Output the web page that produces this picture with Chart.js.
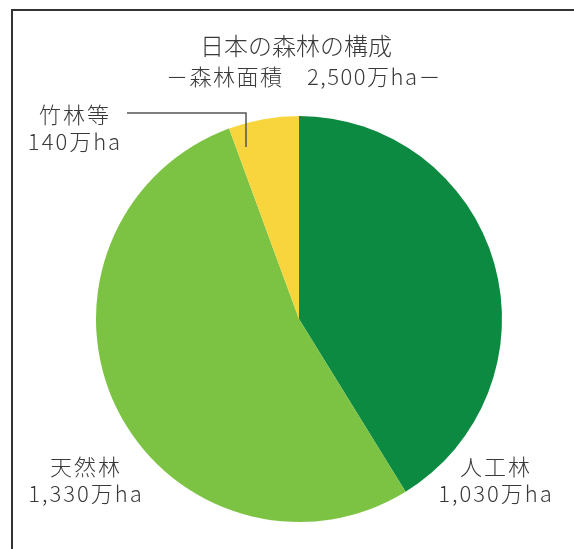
<!DOCTYPE html>
<html>
<head>
    <meta charset="utf-8">
    <title>日本の森林の構成</title>
    <script src="https://cdn.jsdelivr.net/npm/chart.js"></script>
    <style>
        html, body { margin: 0; padding: 0; background: #fff; }
        #wrap { position: relative; width: 574px; height: 549px; }
    </style>
</head>
<body>
    <div id="wrap">
        <canvas id="forestChart" width="574" height="549"></canvas>
    </div>

    <script>
        // forest area in 万ha
        const categories = ['人工林', '天然林', '竹林等'];
        const areas = [1030, 1330, 140];
        const sliceColors = ['#0c8a41', '#7cc243', '#f8d53c'];

        const total = areas.reduce((a, b) => a + b, 0);
        const fmt = v => v.toLocaleString('en-US') + '万ha';

        const FONT = '"Noto Sans CJK JP", "Noto Sans", sans-serif';
        const INK = '#3a3a3a';

        // where each category's two-line label sits
        const labelSpots = {
            '人工林': { x: 496, y: 467 },
            '天然林': { x: 86, y: 467 },
            '竹林等': { x: 75, y: 115 }
        };

        const decorations = {
            id: 'decorations',
            afterDraw(chart) {
                const ctx = chart.ctx;
                ctx.save();

                // scanned frame: top and left rules only
                ctx.strokeStyle = '#333';
                ctx.lineWidth = 2;
                ctx.beginPath();
                ctx.moveTo(12, 549);
                ctx.lineTo(12, 10);
                ctx.lineTo(574, 10);
                ctx.stroke();

                ctx.fillStyle = INK;
                ctx.textAlign = 'center';
                ctx.textBaseline = 'middle';

                ctx.font = '300 24px ' + FONT;
                ctx.letterSpacing = '0px';
                ctx.fillText('日本の森林の構成', 296, 46);
                ctx.font = '300 22px ' + FONT;
                ctx.letterSpacing = '1.5px';
                ctx.fillText('－森林面積　' + fmt(total) + '－', 304, 77);

                ctx.font = '300 22px ' + FONT;
                ctx.letterSpacing = '2px';
                categories.forEach((name, i) => {
                    const p = labelSpots[name];
                    ctx.fillText(name, p.x, p.y);
                    ctx.fillText(fmt(areas[i]), p.x, p.y + 27);
                });
                ctx.letterSpacing = '0px';

                // leader from 竹林等 into its slice
                ctx.strokeStyle = '#555';
                ctx.lineWidth = 1.5;
                ctx.beginPath();
                ctx.moveTo(127, 113);
                ctx.lineTo(246, 113);
                ctx.lineTo(246, 147);
                ctx.stroke();

                ctx.restore();
            }
        };

        new Chart(document.getElementById('forestChart'), {
            type: 'pie',
            data: {
                labels: categories,
                datasets: [{
                    data: areas,
                    backgroundColor: sliceColors,
                    borderWidth: 0
                }]
            },
            options: {
                responsive: false,
                animation: false,
                layout: {
                    padding: { left: 96, right: 72, top: 116, bottom: 27 }
                },
                plugins: {
                    legend: { display: false },
                    tooltip: { enabled: false }
                }
            },
            plugins: [decorations]
        });
    </script>
</body>
</html>
